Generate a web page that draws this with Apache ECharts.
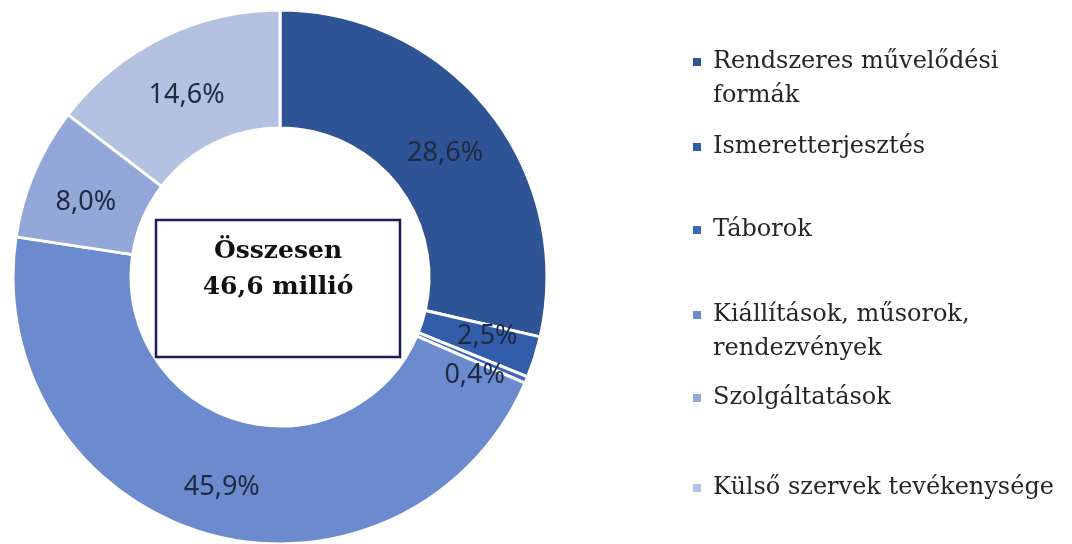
<!DOCTYPE html>
<html>
<head>
<meta charset="utf-8">
<script src="https://cdn.jsdelivr.net/npm/echarts@6/dist/echarts.min.js"></script>
<style>
  html, body { margin: 0; padding: 0; background: #fff; }
  #main { width: 1072px; height: 544px; }
</style>
</head>
<body>
<div id="main"></div>
<script>
// categories (legend text uses line breaks where the original wraps)
var categories = [
    'Rendszeres művelődési formák',
    'Ismeretterjesztés',
    'Táborok',
    'Kiállítások, műsorok, rendezvények',
    'Szolgáltatások',
    'Külső szervek tevékenysége'
];
var legendLabels = [
    'Rendszeres művelődési\nformák',
    'Ismeretterjesztés',
    'Táborok',
    'Kiállítások, műsorok,\nrendezvények',
    'Szolgáltatások',
    'Külső szervek tevékenysége'
];
var shares = [28.6, 2.5, 0.4, 45.9, 8.0, 14.6];
var totalText = 'Összesen\n46,6 millió';

var colors = ['#2F5496', '#325DAA', '#3B69C0', '#6C8BCF', '#93A7D8', '#B5C1E1'];
var legendTops = [11, 130, 213, 264, 381, 471];

var myChart = echarts.init(document.getElementById('main'));

var pieData = categories.map(function (c, i) {
    var d = { name: c, value: shares[i] };
    // the two thin slices have their labels nudged like the original
    if (i === 1) {
        d.label = { offset: [6, -4] };
    }
    if (i === 2) {
        d.label = { offset: [0, 17] };
    }
    return d;
});

var legends = categories.map(function (c, i) {
    var twoLine = legendLabels[i].indexOf('\n') >= 0;
    return {
        data: [c],
        orient: 'vertical',
        left: 691,
        top: legendTops[i],
        padding: 0,
        icon: 'rect',
        itemWidth: 10,
        itemHeight: 10,
        selectedMode: false,
        // a blank first line keeps the icon level with the first text line
        formatter: function () { return (twoLine ? ' \n' : '') + legendLabels[i]; },
        textStyle: {
            fontFamily: 'DejaVu Serif',
            fontSize: 24,
            color: '#262626',
            lineHeight: 34,
            padding: [0, 0, 0, 6]
        }
    };
});

myChart.setOption({
    backgroundColor: '#fff',
    color: colors,
    animation: false,
    legend: legends,
    series: [
        {
            type: 'pie',
            center: [280, 277],
            radius: [149, 267],
            startAngle: 90,
            clockwise: true,
            avoidLabelOverlap: false,
            itemStyle: {
                borderColor: '#fff',
                borderWidth: 3
            },
            label: {
                show: true,
                position: 'inside',
                offset: [0, 8],
                fontFamily: 'Noto Sans',
                fontSize: 27,
                color: '#1F2A40',
                formatter: function (p) {
                    return p.value.toFixed(1).replace('.', ',') + '%';
                }
            },
            labelLine: { show: false },
            emphasis: { disabled: true },
            data: pieData
        }
    ],
    graphic: [
        {
            type: 'rect',
            shape: { x: 156, y: 220, width: 244, height: 137 },
            style: { fill: '#fff', stroke: '#1B1B5E', lineWidth: 2.5 },
            z: 10
        },
        {
            type: 'text',
            x: 278,
            y: 269,
            style: {
                text: totalText,
                fontFamily: 'DejaVu Serif',
                fontWeight: 'bold',
                fontSize: 25,
                lineHeight: 36,
                fill: '#111',
                align: 'center',
                verticalAlign: 'middle'
            },
            z: 11
        }
    ]
});
</script>
</body>
</html>
